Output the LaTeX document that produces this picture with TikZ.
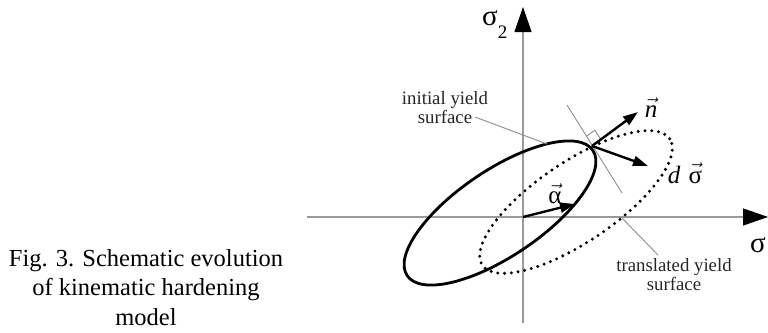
\documentclass[tikz,border=0pt]{standalone}
\usepackage{fontspec}
\setmainfont{Liberation Serif}
\usetikzlibrary{arrows.meta,calc}
\definecolor{axisgray}{HTML}{9A9A9A}
\definecolor{leadgray}{HTML}{8C8C8C}
\tikzset{
  axisline/.style={draw=axisgray, line width=1.1pt},
  axistip/.style={-{Triangle[length=25pt,width=17pt,color=black]}},
  leader/.style={draw=leadgray, line width=0.9pt},
  surf/.style={draw=black, line width=2.8pt},
  transsurf/.style={draw=black, line width=3.3pt, line cap=round, dash pattern=on 0pt off 6.8pt},
  vecarrow/.style={draw=black, line width=2.4pt, -{Triangle[length=15pt,width=10pt]}},
  lbl/.style={font=\fontsize{18.8}{16}\selectfont, align=center, inner sep=0pt, text=black!85},
  mlbl/.style={font=\fontsize{25}{26}\selectfont, inner sep=0pt},
  axlbl/.style={font=\fontsize{29}{29}\selectfont, inner sep=0pt},
}
\begin{document}
\begin{tikzpicture}[x=1pt,y=-1pt]
\useasboundingbox (0,0) rectangle (768,332);
% axes
\coordinate (O) at (523,217);
\coordinate (xs) at (307,217);
\coordinate (xe) at (768,217);
\coordinate (ys) at (523,323);
\coordinate (ye) at (523,7);
\draw[axisline,axistip] (xs) -- (xe);
\draw[axisline,axistip] (ys) -- (ye);
\node[axlbl, anchor=base west] (s2lab) at (482,25) {σ\raisebox{-13pt}{\fontsize{19}{19}\selectfont 2}};
\node[axlbl, anchor=base] (s1lab) at (758,252) {σ};
% yield surfaces
\draw[transsurf, rotate around={34:(576,202)}] (576,202) ellipse [x radius=113pt, y radius=40pt];
\draw[surf, rotate around={34:(500,213)}] (500,213) ellipse [x radius=112pt, y radius=43pt];
% tangent and right angle
\coordinate (T) at (592,146);
\coordinate (tA) at (567,105);
\coordinate (tB) at (622,193);
\draw[leader] (tA) -- (tB);
\coordinate (q1) at (586.2,136.7);
\coordinate (q2) at (594.8,130.2);
\coordinate (q3) at (600.8,139.5);
\draw[leader] (q1) -- (q2) -- (q3);
% vectors
\coordinate (nE) at (638,112);
\coordinate (dE) at (648,166);
\coordinate (aE) at (575,204);
\draw[vecarrow] (T) -- (nE);
\draw[vecarrow] (T) -- (dE);
\draw[vecarrow] (O) -- (aE);
\node[mlbl, anchor=base] (nlab) at (651,117) {$\vec{\mbox{\itshape n}}$};
\node[mlbl, anchor=base] (dslab) at (685,183) {\textit{d}\hspace{8pt}$\vec{\mbox{σ}}$};
\node[mlbl, anchor=base] (alab) at (555,203) {$\vec{\mbox{α}}$};
% labels and leaders
\node[lbl, anchor=base] (ilab) at (445,123) {initial yield\\surface};
\node[lbl, anchor=base] (tlab) at (674,290) {translated yield\\surface};
\coordinate (iS) at (475,117);
\coordinate (iE) at (547,144);
\draw[leader] (iS) -- (iE);
\coordinate (tS) at (622,218);
\coordinate (tE) at (658,255);
\draw[leader] (tS) -- (tE);
% caption
\node[font=\fontsize{24.5}{29.5}\selectfont, align=center, anchor=base, inner sep=0pt] (cap) at (146,325) {Fig. 3. Schematic evolution\\of kinematic hardening\\model};
\end{tikzpicture}
\end{document}
